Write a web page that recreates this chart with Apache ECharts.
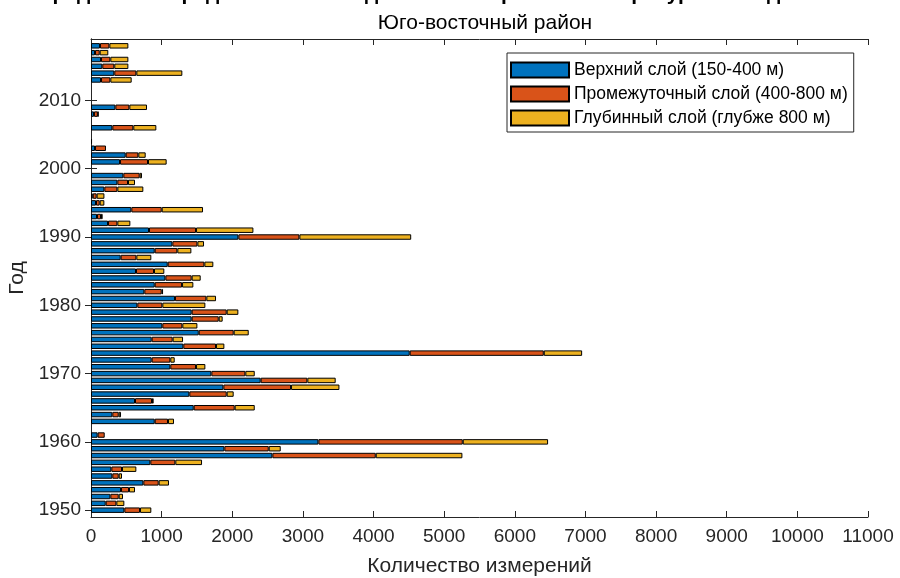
<!DOCTYPE html>
<html>
<head>
<meta charset="utf-8">
<script src="https://cdn.jsdelivr.net/npm/echarts@6/dist/echarts.min.js"></script>
<style>
html,body{margin:0;padding:0;background:#fff;}
#chart{width:900px;height:578px;}
</style>
</head>
<body>
<div id="chart"></div>
<script>
// Years (categories) of the data
const years = [1950,1951,1952,1953,1954,1955,1956,1957,1958,1959,
  1960,1961,1962,1963,1964,1965,1966,1967,1968,1969,
  1970,1971,1972,1973,1974,1975,1976,1977,1978,1979,
  1980,1981,1982,1983,1984,1985,1986,1987,1988,1989,
  1990,1991,1992,1993,1994,1995,1996,1997,1998,1999,
  2000,2001,2002,2003,2004,2005,2006,2007,2008,2009,
  2010,2011,2012,2013,2014,2015,2016,2017,2018];
// Верхний слой (150-400 м)
const upperLayer = [472,208,274,425,741,302,288,840,2568,1888,
  3219,94,0,902,302,1454,623,1392,1874,2402,
  1704,1123,859,4512,1307,859,1525,1010,1425,1425,
  656,1189,755,902,1053,637,1086,420,902,1152,
  2086,821,241,85,571,71,25,189,373,458,
  0,411,491,57,15,0,302,0,42,345,
  0,0,0,142,330,160,142,57,127];
// Промежуточный слой (400-800 м)
const middleLayer = [222,151,118,113,217,90,151,354,1463,628,
  2044,100,0,188,90,580,241,529,958,661,
  481,364,264,1898,463,297,495,283,383,496,
  354,444,246,387,372,255,519,222,320,354,
  864,666,132,57,430,52,55,184,151,231,
  0,396,179,155,0,0,297,0,55,198,
  0,0,0,132,312,170,132,66,133];
// Глубинный слой (глубже 800 м)
const deepLayer = [160,113,61,85,146,47,203,378,1227,170,
  1208,0,0,85,33,284,23,99,685,401,
  133,132,62,543,118,147,213,213,56,165,
  609,137,19,160,128,146,127,212,199,94,
  1583,812,184,23,585,66,110,368,99,33,
  0,264,104,0,0,0,326,0,8,250,
  0,0,0,302,651,199,255,122,269];
const yTickLabels = ['1950','1960','1970','1980','1990','2000','2010'];
const xTickValues = [0,1000,2000,3000,4000,5000,6000,7000,8000,9000,10000,11000];
const seriesNames = ['Верхний слой (150-400 м)','Промежуточный слой (400-800 м)','Глубинный слой (глубже 800 м)'];
const colors = ['#0072BD','#D95319','#EDB120'];

// axis categories padded by one year on each side (axis range 1949-2019)
const cats = [String(years[0]-1)].concat(years.map(String)).concat([String(years[years.length-1]+1)]);
const pad = arr => [null].concat(arr.map(v => v > 0 ? v : null)).concat([null]);
const showTick = (idx, val) => yTickLabels.indexOf(String(val)) >= 0;

const FONT = "'Liberation Sans', Arial, Helvetica, sans-serif";
const AX = '#262626';
const xMin = xTickValues[0], xMax = xTickValues[xTickValues.length-1];
const xStep = xTickValues[1] - xTickValues[0];

const chart = echarts.init(document.getElementById('chart'), null, {renderer:'canvas'});
const layers = [upperLayer, middleLayer, deepLayer];
chart.setOption({
  animation: false,
  backgroundColor: '#ffffff',
  textStyle: {fontFamily: FONT},
  title: [
    {text: 'Распределение средних значений данных измерений температуры по годам и слоям',
     left: 'center', top: -21,
     textStyle: {fontFamily: FONT, fontSize: 21, fontWeight: 'bold', color: '#000'}},
    {text: 'Юго-восточный район', left: 480, textAlign: 'center', top: 8,
     textStyle: {fontFamily: FONT, fontSize: 21, fontWeight: 'normal', color: '#000'}}
  ],
  legend: {
    orient: 'vertical', left: 507, top: 53,
    padding: [8, 6, 5, 3],
    itemWidth: 58, itemHeight: 15, itemGap: 6,
    borderColor: AX, borderWidth: 1, backgroundColor: '#fff',
    textStyle: {fontFamily: FONT, fontSize: 17.5, color: '#000'},
    data: seriesNames.map(n => ({name: n, icon: 'rect'}))
  },
  grid: {left: 91, right: 32, top: 39, bottom: 61, containLabel: false, outerBoundsMode: 'none'},
  xAxis: [{
    type: 'value', min: xMin, max: xMax, interval: xStep,
    name: 'Количество измерений', nameLocation: 'middle', nameGap: 39,
    nameTextStyle: {fontFamily: FONT, fontSize: 21, color: AX},
    axisLine: {show: true, lineStyle: {color: AX, width: 1}},
    axisTick: {show: true, inside: true, length: 6, lineStyle: {color: AX}},
    axisLabel: {fontFamily: FONT, fontSize: 19, color: AX, margin: 10, formatter: v => String(v)},
    splitLine: {show: false}
  }, {
    type: 'value', position: 'top', min: xMin, max: xMax, interval: xStep,
    axisLine: {show: true, lineStyle: {color: AX, width: 1}},
    axisTick: {show: true, inside: true, length: 6, lineStyle: {color: AX}},
    axisLabel: {show: false}, splitLine: {show: false}
  }],
  yAxis: [{
    type: 'category', data: cats, boundaryGap: false,
    name: 'Год', nameLocation: 'middle', nameGap: 56, nameRotate: 90,
    nameTextStyle: {fontFamily: FONT, fontSize: 21, color: AX},
    axisLine: {show: true, lineStyle: {color: AX, width: 1}},
    axisTick: {show: true, inside: true, length: 6, interval: showTick, lineStyle: {color: AX}},
    axisLabel: {fontFamily: FONT, fontSize: 19, color: AX, margin: 10, interval: showTick},
    splitLine: {show: false}
  }, {
    type: 'category', data: cats, boundaryGap: false, position: 'right',
    axisLine: {show: true, lineStyle: {color: AX, width: 1}},
    axisTick: {show: true, inside: true, length: 6, interval: showTick, lineStyle: {color: AX}},
    axisLabel: {show: false}, splitLine: {show: false}
  }],
  series: layers.map((arr, i) => ({
    name: seriesNames[i], type: 'bar', stack: 'total',
    xAxisIndex: 0, yAxisIndex: 0,
    barWidth: '80%',
    data: pad(arr),
    itemStyle: {color: colors[i], borderColor: '#000', borderWidth: 1}
  }))
});
</script>
</body>
</html>
